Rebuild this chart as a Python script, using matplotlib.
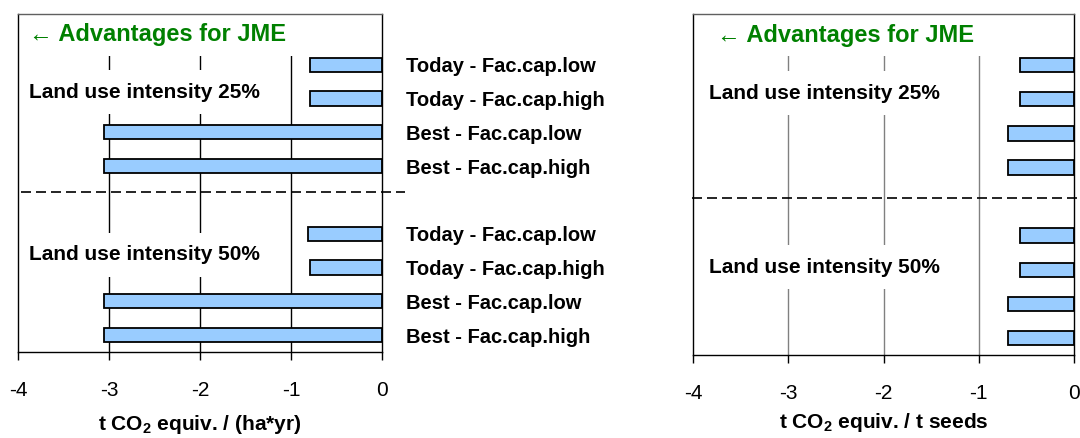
import matplotlib.pyplot as plt
import numpy as np

plt.rcParams['font.family'] = ['Liberation Sans', 'DejaVu Sans']
plt.rcParams['mathtext.fontset'] = 'custom'
plt.rcParams['mathtext.rm'] = 'Liberation Sans'
plt.rcParams['mathtext.bf'] = 'Liberation Sans:bold'

# scenario labels, top to bottom
labels = ['Today - Fac.cap.low', 'Today - Fac.cap.high',
          'Best - Fac.cap.low', 'Best - Fac.cap.high',
          'Today - Fac.cap.low', 'Today - Fac.cap.high',
          'Best - Fac.cap.low', 'Best - Fac.cap.high']
groups = ['Land use intensity 25%', 'Land use intensity 50%']

# t CO2 equiv. per ha and year
per_area = [-0.79, -0.79, -3.05, -3.05, -0.81, -0.79, -3.05, -3.05]
# t CO2 equiv. per t seeds
per_seeds = [-0.57, -0.57, -0.69, -0.69, -0.57, -0.57, -0.69, -0.69]

xticks = [-4, -3, -2, -1, 0]
xlabels = [r't CO$_\mathbf{2}$ equiv. / (ha*yr)', r't CO$_\mathbf{2}$ equiv. / t seeds']

# ten slots: an empty one on top and one between the two groups
slots = np.array([1, 2, 3, 4, 6, 7, 8, 9])

fig = plt.figure(figsize=(10.8, 4.38), dpi=100)
ax1 = fig.add_axes([18/1080, 1-352/438, 364/1080, 338/438])
ax2 = fig.add_axes([693/1080, 1-355/438, 381/1080, 341/438])

setup = [
    (ax1, per_area, 'black', 4.77, (0.008, 1.063), (0.03, 0.938), (0.03, 0.769, 0.287), xlabels[0], 9),
    (ax2, per_seeds, '#808080', 4.9, (-0.003, 1.03), (0.063, 0.938), (0.042, 0.768, 0.258), xlabels[1], 6),
]

for ax, vals, gcol, ysep, sep_x, adv_xy, grp_xy, xl, lpad in setup:
    ax.set_xlim(-4, 0)
    ax.set_ylim(9.5, -0.5)
    for x in xticks[1:-1]:
        ax.axvline(x, color=gcol, lw=1.0, zorder=0)
    ax.barh(slots, vals, height=0.42, color='#99CCFF', edgecolor='black',
            linewidth=1.3, zorder=3)

    # separator between the two land use groups (axes x, data y)
    ax.plot(sep_x, [ysep, ysep], transform=ax.get_yaxis_transform(which='grid'),
            color='black', lw=1.2, ls=(0, (6, 3)), clip_on=False, zorder=7)

    ax.text(adv_xy[0], adv_xy[1], '\u2190 Advantages for JME', transform=ax.transAxes,
            color='#008000', fontsize=17, fontweight='bold', va='center', ha='left',
            zorder=5, bbox=dict(facecolor='white', edgecolor='none', pad=7))
    for g, gy in zip(groups, grp_xy[1:]):
        ax.text(grp_xy[0], gy, g, transform=ax.transAxes, fontsize=15,
                fontweight='bold', va='center', ha='left', zorder=5,
                bbox=dict(facecolor='white', edgecolor='none', pad=9))

    ax.set_xticks(xticks)
    ax.set_xticklabels([str(t) for t in xticks])
    ax.tick_params(axis='x', direction='out', length=6, width=1, pad=15, labelsize=15)
    ax.set_xlabel(xl, fontsize=15, fontweight='bold', labelpad=lpad)

    for s in ['left', 'bottom', 'right', 'top']:
        ax.spines[s].set_color('black')
        ax.spines[s].set_linewidth(1.0)
        ax.spines[s].set_zorder(6)
    ax.spines['top'].set_color('#606060')

ax1.set_yticks(slots)
ax1.set_yticklabels(labels, fontsize=14.5, fontweight='bold')
ax1.tick_params(axis='y', length=0, labelleft=False, labelright=True, pad=17)
ax2.set_yticks([])

fig.savefig('out.png', dpi=100)
